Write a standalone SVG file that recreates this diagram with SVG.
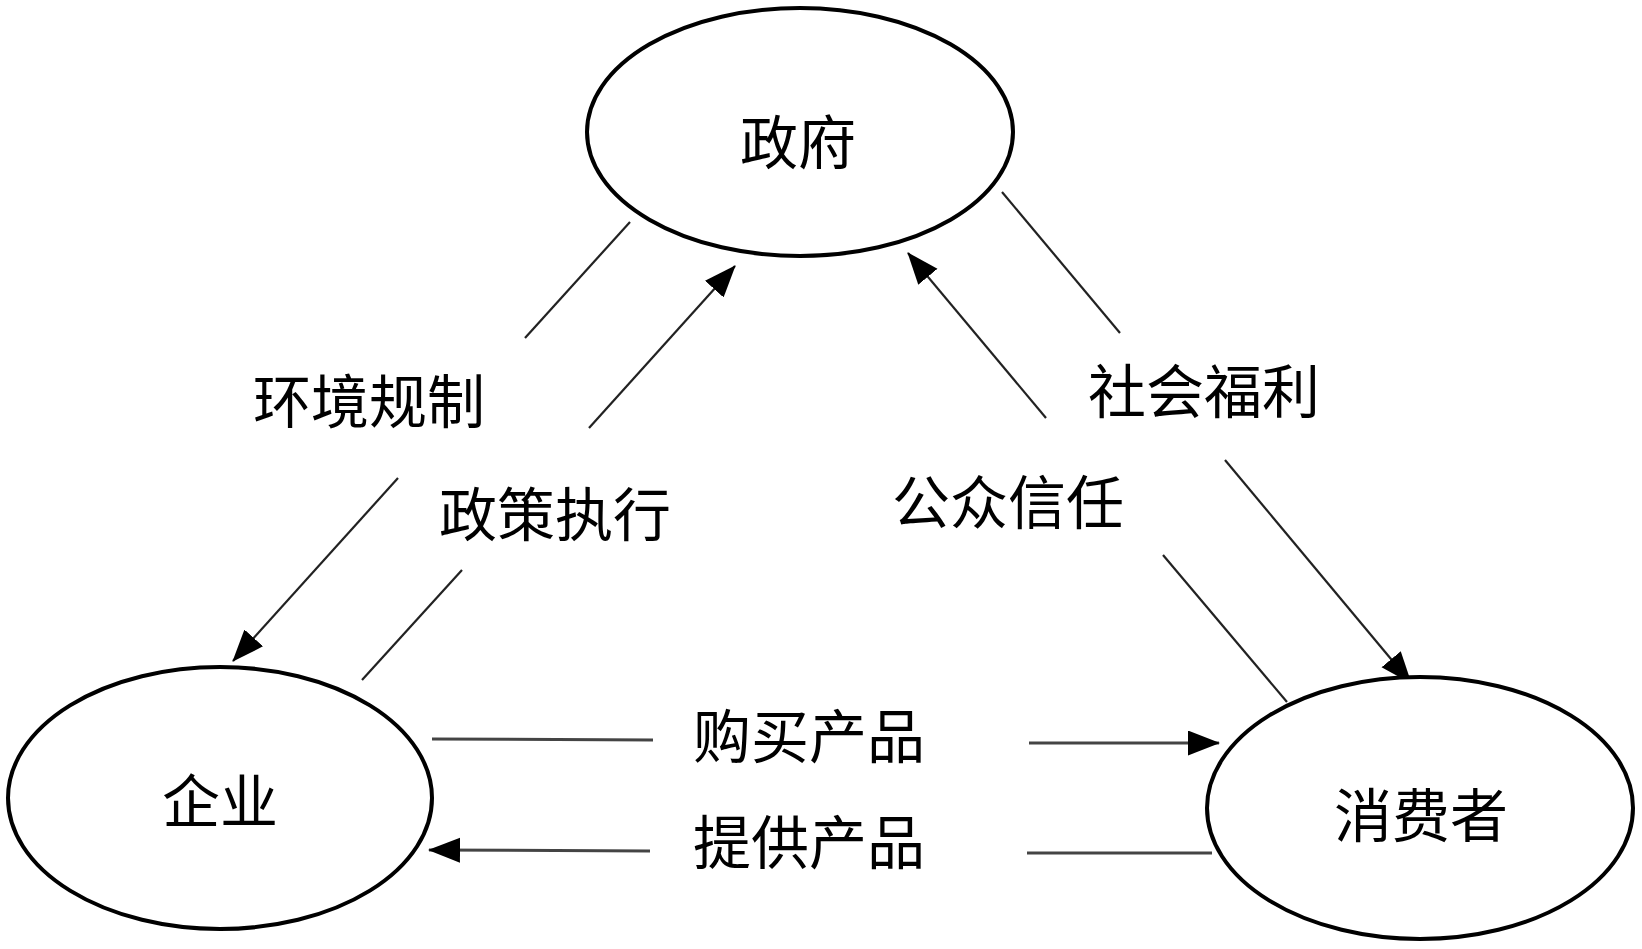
<svg xmlns="http://www.w3.org/2000/svg" width="1642" height="949" viewBox="0 0 1642 949">
<style>
.node{fill:#fff;stroke:#000;stroke-width:4}
.lbl{font-family:"Liberation Serif","Noto Sans CJK SC",serif;font-size:58px;fill:#000;text-anchor:middle}
.ln{stroke:#222;stroke-width:2.2;fill:none}
.hl{stroke:#444;stroke-width:3;fill:none}
</style>
<defs>
<marker id="arr" markerUnits="userSpaceOnUse" markerWidth="34" markerHeight="28" refX="31" refY="12.5" orient="auto">
<path d="M0,0 L32,12.5 L0,25 z" fill="#000"/>
</marker>
</defs>
<rect width="1642" height="949" fill="#fff"/>
<g id="connectors">
<line class="ln" x1="630" y1="222" x2="525" y2="338"/>
<line class="ln" x1="398" y1="478" x2="233" y2="661" marker-end="url(#arr)"/>
<line class="ln" x1="589" y1="428" x2="735" y2="266" marker-end="url(#arr)"/>
<line class="ln" x1="462" y1="570" x2="362" y2="680"/>
<line class="ln" x1="1002" y1="192" x2="1120" y2="333"/>
<line class="ln" x1="1046" y1="418" x2="908" y2="253" marker-end="url(#arr)"/>
<line class="ln" x1="1225" y1="460" x2="1411" y2="683" marker-end="url(#arr)"/>
<line class="ln" x1="1163" y1="555" x2="1287" y2="702"/>
<line class="hl" x1="432" y1="739" x2="653" y2="740"/>
<line class="hl" x1="1029" y1="743" x2="1219" y2="743" marker-end="url(#arr)"/>
<line class="hl" x1="650" y1="851" x2="429" y2="850" marker-end="url(#arr)"/>
<line class="hl" x1="1027" y1="853" x2="1212" y2="853"/>
</g>
<g id="node-gov">
<ellipse class="node" cx="800" cy="132" rx="213" ry="124"/>
<text class="lbl" x="798" y="164">政府</text>
</g>
<g id="node-firm">
<ellipse class="node" cx="220" cy="798" rx="212" ry="131"/>
<text class="lbl" x="220" y="823">企业</text>
</g>
<g id="node-consumer">
<ellipse class="node" cx="1420" cy="808" rx="213" ry="131"/>
<text class="lbl" x="1421" y="837">消费者</text>
</g>
<g id="labels">
<text class="lbl" x="369" y="423">环境规制</text>
<text class="lbl" x="555" y="536">政策执行</text>
<text class="lbl" x="1204" y="413">社会福利</text>
<text class="lbl" x="1008" y="524">公众信任</text>
<text class="lbl" x="809" y="758">购买产品</text>
<text class="lbl" x="809" y="864">提供产品</text>
</g>
</svg>
